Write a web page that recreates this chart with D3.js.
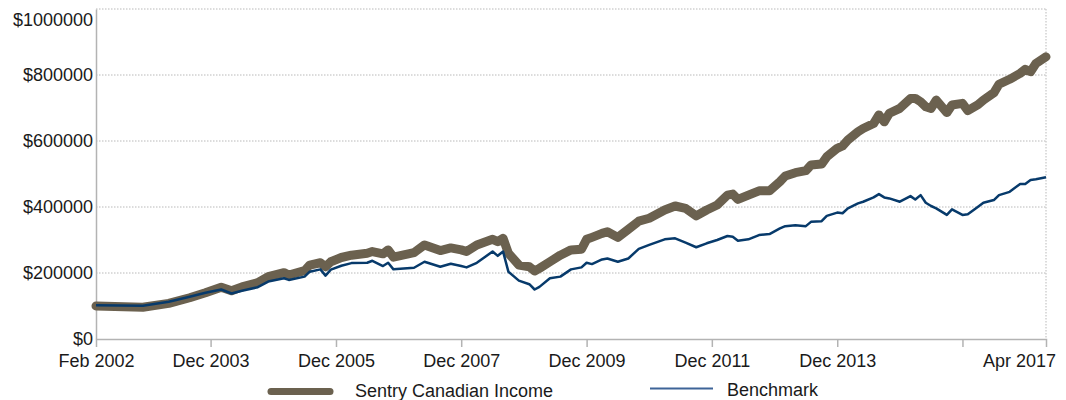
<!DOCTYPE html>
<html>
<head>
<meta charset="utf-8">
<script src="https://cdn.jsdelivr.net/npm/d3@7"></script>
<style>
  html, body { margin: 0; padding: 0; background: #fff; }
  svg { display: block; font-family: "Liberation Sans", Arial, sans-serif; }
</style>
</head>
<body>
<svg id="chart" width="1066" height="400"></svg>
<script>
// ---- data ----
const dates = [
  "2002-02","2002-11","2003-04","2003-08","2003-11","2004-02","2004-04","2004-06","2004-09","2004-11",
  "2005-02","2005-03","2005-06","2005-07","2005-09","2005-10","2005-11","2006-01","2006-03","2006-06",
  "2006-07","2006-09","2006-10","2006-11","2007-03","2007-05","2007-08","2007-10","2007-12","2008-01",
  "2008-03","2008-06","2008-07","2008-08","2008-09","2008-11","2009-01","2009-02","2009-03","2009-05",
  "2009-07","2009-09","2009-11","2009-12","2010-01","2010-03","2010-04","2010-06","2010-08","2010-10",
  "2010-12","2011-03","2011-05","2011-07","2011-09","2011-11","2012-01","2012-03","2012-04","2012-05",
  "2012-07","2012-09","2012-11","2013-01","2013-02","2013-04","2013-06","2013-07","2013-09","2013-10",
  "2013-12","2014-01","2014-02","2014-04","2014-05","2014-07","2014-08","2014-09","2014-10","2014-12",
  "2015-02","2015-03","2015-04","2015-05","2015-06","2015-07","2015-09","2015-10","2015-12","2016-01",
  "2016-03","2016-04","2016-06","2016-07","2016-09","2016-11","2016-12","2017-01","2017-02","2017-04"
];
const sentryCanadianIncome = [
  100000,96000,108000,125000,140000,157000,146000,158000,171000,189000,
  201000,194000,207000,224000,231000,219000,234000,247000,254000,260000,
  265000,258000,270000,248000,262000,285000,268000,276000,270000,265000,
  285000,302000,295000,305000,260000,224000,219000,206000,214000,234000,
  254000,270000,272000,302000,308000,320000,325000,308000,332000,357000,
  366000,391000,403000,396000,373000,391000,406000,436000,439000,423000,
  436000,449000,449000,477000,494000,504000,510000,527000,530000,552000,
  578000,585000,603000,628000,638000,653000,679000,658000,684000,699000,
  729000,729000,719000,704000,699000,724000,686000,709000,714000,692000,
  710000,724000,746000,772000,787000,805000,817000,810000,835000,855000
];
const benchmark = [
  102000,101000,113000,128000,140000,150000,138000,146000,157000,174000,
  184000,179000,189000,204000,211000,192000,210000,222000,230000,231000,
  237000,221000,231000,211000,216000,234000,219000,228000,221000,217000,
  231000,265000,252000,265000,204000,177000,166000,150000,158000,184000,
  189000,211000,217000,231000,227000,241000,244000,234000,244000,273000,
  285000,302000,305000,292000,278000,290000,300000,312000,310000,298000,
  302000,315000,318000,335000,342000,345000,342000,355000,357000,373000,
  383000,381000,396000,411000,416000,429000,439000,429000,426000,416000,
  433000,423000,436000,413000,403000,396000,376000,393000,376000,378000,
  401000,413000,421000,436000,446000,470000,470000,482000,484000,490000
];
const seriesNames = ["Sentry Canadian Income", "Benchmark"];
const xTickDates = ["2002-02","2003-12","2005-12","2007-12","2009-12","2011-12","2013-12","2015-12","2017-04"];
const xTickLabels = ["Feb 2002","Dec 2003","Dec 2005","Dec 2007","Dec 2009","Dec 2011","Dec 2013","","Apr 2017"];
const yTicks = [0, 200000, 400000, 600000, 800000, 1000000];

// ---- layout ----
const W = 1066, H = 400;
const margin = { top: 9, right: 20, bottom: 61, left: 96 };
const parse = d3.timeParse("%Y-%m");
const svg = d3.select("#chart");
const x = d3.scaleTime()
  .domain([parse(dates[0]), parse(dates[dates.length - 1])])
  .range([margin.left, W - margin.right]);
const y = d3.scaleLinear().domain([0, 1000000]).range([H - margin.bottom, margin.top]);

const gridColor = "#b9b9b9";
const axisColor = "#b3b3b3";
const textColor = "#1a1a1a";
const brown = "#6b614f";
const navy = "#073a6b";

// gridlines (dotted)
svg.append("g").selectAll("line").data(yTicks.filter(v => v > 0)).join("line")
  .attr("x1", margin.left).attr("x2", W - margin.right)
  .attr("y1", d => y(d)).attr("y2", d => y(d))
  .attr("stroke", gridColor).attr("stroke-width", 1)
  .attr("stroke-dasharray", "1.5,1.5");
// right border dotted
svg.append("line")
  .attr("x1", W - margin.right).attr("x2", W - margin.right)
  .attr("y1", margin.top).attr("y2", H - margin.bottom)
  .attr("stroke", gridColor).attr("stroke-dasharray", "1.5,1.5");

// y axis
const yAxis = d3.axisLeft(y).tickValues(yTicks).tickSize(0).tickPadding(3)
  .tickFormat(d => "$" + d3.format("d")(d));
const gy = svg.append("g").attr("transform", `translate(${margin.left},0)`).call(yAxis);
gy.select(".domain").attr("stroke", axisColor).attr("stroke-width", 1.5);
gy.selectAll("text").attr("fill", textColor).style("font-size", "18px")
  .style("font-family", "'Liberation Sans', Arial, sans-serif")
  .each(function (d) {
    // keep the top label inside the picture
    const b = this.getBBox();
    const top = y(d) + b.y;
    if (top < 9) d3.select(this).attr("y", 9 - top);
  });

// x axis
const xAxis = d3.axisBottom(x).tickValues(xTickDates.map(parse)).tickSize(8).tickPadding(7)
  .tickFormat((d, i) => xTickLabels[i]);
const gx = svg.append("g").attr("transform", `translate(0,${H - margin.bottom})`).call(xAxis);
gx.select(".domain").attr("stroke", axisColor).attr("stroke-width", 1.5);
gx.selectAll(".tick line").attr("stroke", axisColor).attr("stroke-width", 1.5)
  .attr("opacity", (d, i) => (i === 0 || i === xTickDates.length - 1) ? 0 : 1);
gx.selectAll("text").attr("fill", textColor).style("font-size", "18px")
  .style("font-family", "'Liberation Sans', Arial, sans-serif")
  .each(function () {
    const t = d3.select(this);
    const tick = this.parentNode;
    const tx = +d3.select(tick).attr("transform").match(/translate\(([^,]+)/)[1];
    const w = this.getComputedTextLength();
    if (tx + w / 2 > W - 10) t.attr("x", (W - 10) - tx - w / 2);
  });

// lines
const pts = dates.map((d, i) => ({ d: parse(d), a: sentryCanadianIncome[i], b: benchmark[i] }));
svg.append("path").datum(pts)
  .attr("fill", "none").attr("stroke", brown).attr("stroke-width", 9)
  .attr("stroke-linejoin", "round").attr("stroke-linecap", "round")
  .attr("d", d3.line().x(p => x(p.d)).y(p => y(p.a)));
svg.append("path").datum(pts)
  .attr("fill", "none").attr("stroke", navy).attr("stroke-width", 2.5)
  .attr("stroke-linejoin", "round")
  .attr("d", d3.line().x(p => x(p.d)).y(p => y(p.b)));

// legend
const lg = svg.append("g").style("font-size", "18px").attr("fill", textColor);
lg.append("line").attr("x1", 271).attr("x2", 330).attr("y1", 391.5).attr("y2", 391.5)
  .attr("stroke", brown).attr("stroke-width", 7).attr("stroke-linecap", "round");
lg.append("text").attr("x", 355).attr("y", 397).text(seriesNames[0]);
lg.append("line").attr("x1", 650).attr("x2", 713).attr("y1", 388.5).attr("y2", 388.5)
  .attr("stroke", "#3e6498").attr("stroke-width", 2);
lg.append("text").attr("x", 727).attr("y", 396).text(seriesNames[1]);
</script>
</body>
</html>
